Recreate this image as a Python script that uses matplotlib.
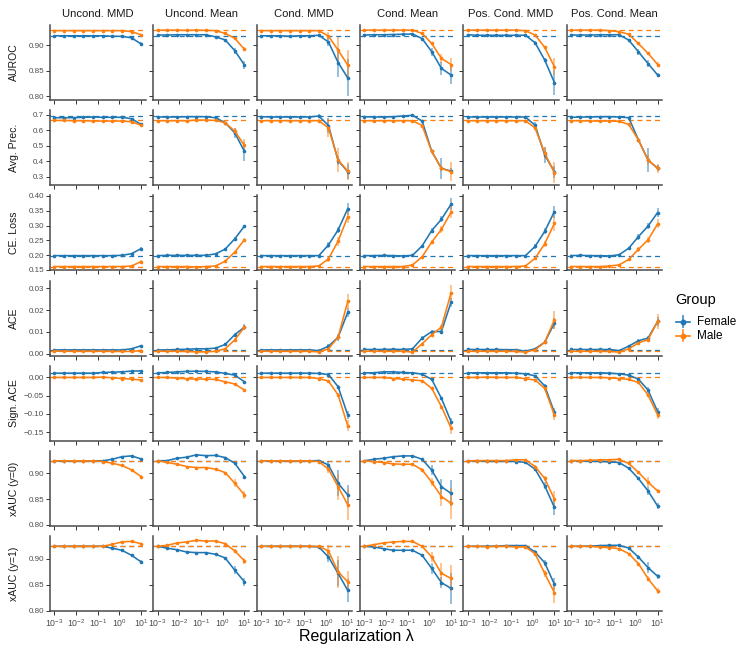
import matplotlib
matplotlib.use("Agg")
import matplotlib.pyplot as plt
from matplotlib.ticker import FixedLocator, FuncFormatter, NullLocator
from matplotlib.lines import Line2D

# ---------------- data ----------------
lambdas = [0.001, 0.00278, 0.00774, 0.0215, 0.0599, 0.167, 0.464, 1.29, 3.59, 10.0]
methods = ["Uncond. MMD", "Uncond. Mean", "Cond. MMD", "Cond. Mean", "Pos. Cond. MMD", "Pos. Cond. Mean"]
metrics = ["AUROC", "Avg. Prec.", "CE. Loss", "ACE", "Sign. ACE", "xAUC (y=0)", "xAUC (y=1)"]
groups = ["Female", "Male"]
colors = ["#1f77b4", "#ff7f0e"]

auroc_female = [
    [0.918, 0.918, 0.918, 0.918, 0.918, 0.918, 0.917, 0.917, 0.914, 0.902],
    [0.9195, 0.9195, 0.920, 0.920, 0.920, 0.920, 0.916, 0.910, 0.889, 0.861],
    [0.918, 0.918, 0.918, 0.917, 0.918, 0.918, 0.919, 0.906, 0.866, 0.836],
    [0.9195, 0.920, 0.920, 0.9205, 0.921, 0.9215, 0.9125, 0.887, 0.8545, 0.8416],
    [0.920, 0.919, 0.919, 0.919, 0.919, 0.919, 0.919, 0.9045, 0.871, 0.827],
    [0.9195, 0.9195, 0.9195, 0.920, 0.920, 0.920, 0.9097, 0.887, 0.864, 0.8416],
]
auroc_male = [
    [0.928, 0.928, 0.928, 0.928, 0.928, 0.928, 0.928, 0.928, 0.926, 0.920],
    [0.929, 0.929, 0.929, 0.9286, 0.929, 0.9286, 0.928, 0.9227, 0.913, 0.8916],
    [0.928, 0.928, 0.928, 0.928, 0.928, 0.928, 0.928, 0.9175, 0.890, 0.861],
    [0.929, 0.929, 0.929, 0.929, 0.929, 0.929, 0.9227, 0.903, 0.874, 0.862],
    [0.929, 0.929, 0.929, 0.929, 0.929, 0.929, 0.928, 0.9195, 0.8955, 0.858],
    [0.929, 0.929, 0.929, 0.929, 0.928, 0.926, 0.921, 0.903, 0.884, 0.862],
]
avgprec_female = [
    [0.6825, 0.6825, 0.6825, 0.685, 0.687, 0.685, 0.685, 0.685, 0.676, 0.639],
    [0.687, 0.687, 0.687, 0.689, 0.689, 0.689, 0.6825, 0.650, 0.584, 0.464],
    [0.689, 0.687, 0.687, 0.687, 0.687, 0.687, 0.6935, 0.632, 0.405, 0.333],
    [0.689, 0.687, 0.687, 0.689, 0.6935, 0.698, 0.661, 0.464, 0.355, 0.337],
    [0.687, 0.687, 0.687, 0.687, 0.687, 0.687, 0.687, 0.634, 0.442, 0.333],
    [0.685, 0.687, 0.687, 0.689, 0.689, 0.687, 0.6825, 0.540, 0.409, 0.355],
]
avgprec_male = [
    [0.665, 0.665, 0.663, 0.663, 0.661, 0.661, 0.661, 0.661, 0.656, 0.634],
    [0.663, 0.663, 0.663, 0.663, 0.667, 0.667, 0.665, 0.650, 0.595, 0.503],
    [0.663, 0.663, 0.663, 0.663, 0.663, 0.663, 0.663, 0.617, 0.409, 0.337],
    [0.663, 0.663, 0.663, 0.663, 0.663, 0.663, 0.632, 0.464, 0.355, 0.333],
    [0.663, 0.663, 0.663, 0.663, 0.663, 0.663, 0.663, 0.617, 0.453, 0.328],
    [0.663, 0.663, 0.661, 0.661, 0.661, 0.659, 0.639, 0.540, 0.409, 0.355],
]
ce_female = [
    [0.198, 0.198, 0.198, 0.198, 0.198, 0.198, 0.198, 0.199, 0.2045, 0.222],
    [0.198, 0.199, 0.199, 0.199, 0.199, 0.199, 0.204, 0.220, 0.255, 0.298],
    [0.198, 0.198, 0.198, 0.198, 0.198, 0.198, 0.198, 0.234, 0.285, 0.357],
    [0.198, 0.198, 0.199, 0.198, 0.197, 0.199, 0.231, 0.283, 0.321, 0.372],
    [0.198, 0.198, 0.198, 0.198, 0.198, 0.198, 0.198, 0.229, 0.280, 0.347],
    [0.198, 0.199, 0.198, 0.198, 0.197, 0.201, 0.223, 0.262, 0.298, 0.344],
]
ce_male = [
    [0.161, 0.161, 0.161, 0.161, 0.161, 0.161, 0.161, 0.161, 0.163, 0.178],
    [0.161, 0.161, 0.161, 0.161, 0.160, 0.161, 0.163, 0.179, 0.210, 0.2515],
    [0.161, 0.161, 0.161, 0.161, 0.161, 0.161, 0.163, 0.187, 0.247, 0.330],
    [0.161, 0.161, 0.161, 0.161, 0.161, 0.1665, 0.194, 0.244, 0.287, 0.345],
    [0.161, 0.161, 0.161, 0.161, 0.161, 0.161, 0.163, 0.1887, 0.238, 0.307],
    [0.161, 0.161, 0.161, 0.161, 0.163, 0.1665, 0.185, 0.219, 0.2515, 0.3055],
]
ace_female = [
    [0.0018, 0.0018, 0.0018, 0.0018, 0.0018, 0.0018, 0.0018, 0.0018, 0.0023, 0.0037],
    [0.0018, 0.0018, 0.0020, 0.0021, 0.0023, 0.0023, 0.0026, 0.0043, 0.0088, 0.0122],
    [0.0018, 0.0018, 0.0018, 0.0018, 0.0018, 0.0018, 0.0015, 0.0035, 0.0076, 0.0190],
    [0.0020, 0.0020, 0.0020, 0.0021, 0.0020, 0.0023, 0.0072, 0.0102, 0.0102, 0.0236],
    [0.0020, 0.0020, 0.0020, 0.0020, 0.0019, 0.0019, 0.0012, 0.0023, 0.0053, 0.0140],
    [0.0020, 0.0020, 0.0020, 0.0020, 0.0020, 0.0015, 0.0035, 0.0060, 0.0072, 0.0148],
]
ace_male = [
    [0.0012, 0.0012, 0.0012, 0.0012, 0.0012, 0.0012, 0.0011, 0.0011, 0.0011, 0.0015],
    [0.0012, 0.0012, 0.0012, 0.0011, 0.0009, 0.0009, 0.0012, 0.0023, 0.0064, 0.0122],
    [0.0012, 0.0012, 0.0012, 0.0012, 0.0012, 0.0012, 0.0009, 0.0023, 0.0076, 0.0240],
    [0.0012, 0.0012, 0.0012, 0.0012, 0.0012, 0.0008, 0.0046, 0.0088, 0.0122, 0.0279],
    [0.0012, 0.0012, 0.0012, 0.0012, 0.0012, 0.0011, 0.0008, 0.0018, 0.0053, 0.0155],
    [0.0012, 0.0012, 0.0012, 0.0012, 0.0011, 0.0008, 0.0023, 0.0050, 0.0065, 0.0149],
]
sace_female = [
    [0.0118, 0.0118, 0.0118, 0.0118, 0.0118, 0.0136, 0.0145, 0.0155, 0.0173, 0.0180],
    [0.0127, 0.0136, 0.0155, 0.0164, 0.0173, 0.0164, 0.0155, 0.0110, 0.0064, -0.0120],
    [0.0118, 0.0118, 0.0118, 0.0118, 0.0118, 0.0118, 0.0110, 0.0080, -0.0255, -0.1030],
    [0.0127, 0.0127, 0.0155, 0.0155, 0.0136, 0.0127, 0.0090, -0.0055, -0.0573, -0.1210],
    [0.0127, 0.0127, 0.0127, 0.0127, 0.0127, 0.0118, 0.0100, 0.0045, -0.0230, -0.0960],
    [0.0127, 0.0127, 0.0127, 0.0127, 0.0118, 0.0100, 0.0064, -0.0045, -0.0345, -0.0940],
]
sace_male = [
    [0.0, 0.0, 0.0, 0.0, 0.0, 0.001, -0.001, -0.003, -0.0045, -0.007],
    [0.0, 0.0, -0.002, -0.0036, -0.0045, -0.0045, -0.0055, -0.012, -0.018, -0.0345],
    [0.0, 0.0, 0.0, 0.0, 0.0, 0.0, -0.003, -0.010, -0.048, -0.133],
    [0.0, 0.0, 0.0, -0.003, -0.0045, -0.007, -0.009, -0.030, -0.080, -0.139],
    [0.0, 0.0, 0.001, 0.0, 0.0, 0.0, -0.0036, -0.007, -0.030, -0.103],
    [0.0, 0.0, 0.0, 0.0, -0.001, -0.003, -0.0055, -0.0136, -0.048, -0.103],
]
xauc0_female = [
    [0.924, 0.923, 0.924, 0.924, 0.924, 0.924, 0.927, 0.932, 0.9335, 0.9277],
    [0.924, 0.9245, 0.929, 0.931, 0.9355, 0.934, 0.9345, 0.9303, 0.9194, 0.8935],
    [0.924, 0.924, 0.924, 0.924, 0.924, 0.924, 0.9245, 0.916, 0.8806, 0.858],
    [0.924, 0.927, 0.929, 0.932, 0.9335, 0.9335, 0.927, 0.906, 0.874, 0.861],
    [0.924, 0.924, 0.923, 0.923, 0.923, 0.9226, 0.921, 0.908, 0.876, 0.834],
    [0.924, 0.924, 0.923, 0.923, 0.922, 0.9207, 0.9097, 0.890, 0.866, 0.8365],
]
xauc0_male = [
    [0.924, 0.924, 0.924, 0.924, 0.924, 0.9226, 0.9194, 0.915, 0.9065, 0.8935],
    [0.924, 0.921, 0.9174, 0.913, 0.911, 0.911, 0.908, 0.9013, 0.8806, 0.858],
    [0.924, 0.924, 0.924, 0.924, 0.924, 0.924, 0.9226, 0.908, 0.874, 0.839],
    [0.924, 0.9226, 0.9207, 0.918, 0.9174, 0.9174, 0.9065, 0.8826, 0.855, 0.842],
    [0.924, 0.9245, 0.9245, 0.9245, 0.9245, 0.926, 0.926, 0.913, 0.890, 0.850],
    [0.9245, 0.9245, 0.925, 0.926, 0.926, 0.927, 0.919, 0.902, 0.8826, 0.8658],
]
xauc1_female = [
    [0.9236, 0.9236, 0.9236, 0.9236, 0.9236, 0.9236, 0.920, 0.916, 0.9064, 0.8936],
    [0.9236, 0.920, 0.917, 0.9127, 0.9115, 0.9115, 0.9083, 0.9013, 0.8777, 0.8554],
    [0.9236, 0.9236, 0.9236, 0.9236, 0.9236, 0.9236, 0.9223, 0.903, 0.8716, 0.839],
    [0.9236, 0.9223, 0.919, 0.916, 0.916, 0.916, 0.9064, 0.881, 0.854, 0.8427],
    [0.9236, 0.9236, 0.9236, 0.924, 0.925, 0.925, 0.925, 0.9127, 0.892, 0.8508],
    [0.9236, 0.9236, 0.924, 0.925, 0.9255, 0.9255, 0.9204, 0.903, 0.8828, 0.866],
]
xauc1_male = [
    [0.9236, 0.9236, 0.9236, 0.9236, 0.9236, 0.9236, 0.9274, 0.932, 0.933, 0.9287],
    [0.9236, 0.9255, 0.930, 0.932, 0.935, 0.9338, 0.9338, 0.9287, 0.9147, 0.8955],
    [0.9236, 0.9236, 0.9236, 0.9236, 0.9236, 0.9236, 0.9236, 0.9147, 0.8745, 0.8554],
    [0.9236, 0.9268, 0.930, 0.932, 0.933, 0.933, 0.9236, 0.903, 0.8716, 0.862],
    [0.9236, 0.9236, 0.9230, 0.9236, 0.9236, 0.9223, 0.9223, 0.9095, 0.8716, 0.8347],
    [0.9236, 0.9236, 0.9236, 0.9223, 0.921, 0.919, 0.9095, 0.8904, 0.8617, 0.838],
]

# baseline (unregularised) values per metric: (Female, Male)
baselines = [(0.9185, 0.9285), (0.693, 0.665), (0.197, 0.161), (0.0019, 0.0012),
             (0.0118, 0.0005), (0.9233, 0.9240), (0.9233, 0.9240)]

# error half-widths: small value for lambda < 0.4, explicit for the last four lambdas
err_small = [0.001, 0.004, 0.002, 0.0003, 0.0015, 0.001, 0.001]
err_female = [
    [[0.001, 0.001, 0.002, 0.003], [0.001, 0.002, 0.006, 0.007], [0.002, 0.008, 0.028, 0.036],
     [0.002, 0.008, 0.012, 0.018], [0.001, 0.004, 0.004, 0.025], [0.002, 0.006, 0.006, 0.003]],
    [[0.004, 0.004, 0.006, 0.008], [0.005, 0.006, 0.03, 0.06], [0.01, 0.05, 0.03, 0.05],
     [0.006, 0.01, 0.07, 0.02], [0.004, 0.02, 0.05, 0.04], [0.004, 0.01, 0.08, 0.02]],
    [[0.002, 0.002, 0.003, 0.004], [0.002, 0.004, 0.006, 0.005], [0.003, 0.01, 0.01, 0.02],
     [0.003, 0.01, 0.01, 0.02], [0.002, 0.01, 0.01, 0.02], [0.004, 0.01, 0.01, 0.015]],
    [[0.0003, 0.0003, 0.0004, 0.0005], [0.0004, 0.0005, 0.0008, 0.0015], [0.0005, 0.001, 0.0015, 0.002],
     [0.0008, 0.0008, 0.001, 0.002], [0.0004, 0.0005, 0.001, 0.0025], [0.0005, 0.0008, 0.0008, 0.002]],
    [[0.002, 0.002, 0.002, 0.002], [0.002, 0.002, 0.003, 0.003], [0.002, 0.003, 0.006, 0.01],
     [0.002, 0.003, 0.004, 0.01], [0.002, 0.003, 0.006, 0.012], [0.002, 0.003, 0.008, 0.01]],
    [[0.001, 0.001, 0.002, 0.002], [0.001, 0.002, 0.003, 0.004], [0.002, 0.008, 0.025, 0.02],
     [0.002, 0.01, 0.015, 0.025], [0.001, 0.003, 0.007, 0.015], [0.002, 0.003, 0.008, 0.006]],
    [[0.001, 0.001, 0.002, 0.003], [0.002, 0.002, 0.008, 0.008], [0.003, 0.01, 0.025, 0.022],
     [0.003, 0.01, 0.01, 0.03], [0.001, 0.003, 0.006, 0.012], [0.002, 0.003, 0.01, 0.005]],
]
err_male = [
    [[0.001, 0.001, 0.001, 0.002], [0.001, 0.002, 0.003, 0.004], [0.002, 0.008, 0.026, 0.03],
     [0.002, 0.003, 0.008, 0.012], [0.001, 0.002, 0.003, 0.016], [0.002, 0.002, 0.003, 0.005]],
    [[0.004, 0.004, 0.004, 0.006], [0.005, 0.005, 0.02, 0.04], [0.01, 0.06, 0.08, 0.06],
     [0.004, 0.01, 0.02, 0.06], [0.004, 0.01, 0.04, 0.07], [0.004, 0.01, 0.03, 0.03]],
    [[0.002, 0.002, 0.002, 0.004], [0.002, 0.003, 0.005, 0.005], [0.003, 0.01, 0.015, 0.02],
     [0.002, 0.008, 0.012, 0.02], [0.002, 0.006, 0.01, 0.025], [0.004, 0.008, 0.01, 0.015]],
    [[0.0003, 0.0003, 0.0003, 0.0004], [0.0003, 0.0004, 0.0008, 0.0012], [0.0005, 0.001, 0.001, 0.0035],
     [0.0005, 0.0008, 0.001, 0.0035], [0.0004, 0.0005, 0.001, 0.004], [0.0005, 0.0008, 0.001, 0.0035]],
    [[0.002, 0.002, 0.002, 0.002], [0.002, 0.002, 0.002, 0.003], [0.002, 0.003, 0.006, 0.015],
     [0.002, 0.003, 0.004, 0.015], [0.002, 0.003, 0.006, 0.015], [0.002, 0.003, 0.006, 0.012]],
    [[0.001, 0.001, 0.002, 0.003], [0.002, 0.002, 0.008, 0.007], [0.003, 0.008, 0.025, 0.03],
     [0.003, 0.008, 0.018, 0.03], [0.001, 0.003, 0.005, 0.015], [0.002, 0.003, 0.01, 0.004]],
    [[0.001, 0.001, 0.002, 0.002], [0.001, 0.002, 0.003, 0.005], [0.003, 0.012, 0.03, 0.02],
     [0.003, 0.01, 0.02, 0.025], [0.001, 0.003, 0.006, 0.02], [0.002, 0.003, 0.005, 0.006]],
]

female_rows = [auroc_female, avgprec_female, ce_female, ace_female, sace_female, xauc0_female, xauc1_female]
male_rows = [auroc_male, avgprec_male, ce_male, ace_male, sace_male, xauc0_male, xauc1_male]

ylims = [(0.793, 0.939), (0.246, 0.731), (0.148, 0.402), (-0.0008, 0.0335),
         (-0.174, 0.032), (0.798, 0.943), (0.799, 0.943)]
yticks = [[0.80, 0.85, 0.90], [0.3, 0.4, 0.5, 0.6, 0.7], [0.15, 0.20, 0.25, 0.30, 0.35, 0.40],
          [0.00, 0.01, 0.02, 0.03], [-0.15, -0.10, -0.05, 0.00], [0.80, 0.85, 0.90], [0.80, 0.85, 0.90]]
ytick_fmt = ["%.2f", "%.1f", "%.2f", "%.2f", "%.2f", "%.2f", "%.2f"]
xticks = [1e-3, 1e-2, 1e-1, 1e0, 1e1]
xtick_labels = [r"$10^{-3}$", r"$10^{-2}$", r"$10^{-1}$", r"$10^{0}$", r"$10^{1}$"]

# ---------------- style ----------------
plt.rcParams["font.family"] = ["Liberation Sans", "DejaVu Sans"]
plt.rcParams["mathtext.fontset"] = "custom"
plt.rcParams["mathtext.rm"] = "Liberation Sans"
plt.rcParams["mathtext.it"] = "Liberation Sans:italic"
plt.rcParams["mathtext.bf"] = "Liberation Sans:bold"
plt.rcParams["mathtext.default"] = "regular"

W, H = 747, 654
fig = plt.figure(figsize=(W / 100, H / 100), dpi=100)

left0, pw, dx = 50.0, 95.5, 103.3
top0, ph, dy = 25.0, 75.0, 85.2
axis_col = "#4a4a4a"
text_col = "#4d4d4d"


def make_fmt(fmt):
    return FuncFormatter(lambda v, p: (fmt % v).replace("-", "\u2212"))


for r in range(len(metrics)):
    for c in range(len(methods)):
        ax = fig.add_axes([(left0 + c * dx) / W, 1 - (top0 + r * dy + ph) / H, pw / W, ph / H])
        ax.set_xscale("log")
        ax.set_xlim(10 ** -3.2, 10 ** 1.2)
        ax.set_ylim(*ylims[r])
        for s in ("top", "right"):
            ax.spines[s].set_visible(False)
        for s in ("left", "bottom"):
            ax.spines[s].set_color(axis_col)
            ax.spines[s].set_linewidth(1.1)
        ax.xaxis.set_major_locator(FixedLocator(xticks))
        ax.xaxis.set_minor_locator(NullLocator())
        ax.yaxis.set_major_locator(FixedLocator(yticks[r]))
        ax.yaxis.set_major_formatter(make_fmt(ytick_fmt[r]))
        ax.tick_params(axis="both", which="major", length=2.8, width=0.7, color="#333333",
                       labelsize=5.8, labelcolor=text_col, pad=1.5)
        if r == len(metrics) - 1:
            ax.set_xticklabels(xtick_labels, fontsize=6.3)
        else:
            ax.set_xticklabels([])
        if c != 0:
            ax.set_yticklabels([])

        rows = [female_rows[r][c], male_rows[r][c]]
        errs = [err_female[r][c], err_male[r][c]]
        for g in range(2):
            ax.axhline(baselines[r][g], color=colors[g], lw=0.9, dashes=(4, 3), zorder=1)
        for g in range(2):
            vals = rows[g]
            e = [err_small[r]] * (len(lambdas) - 4) + errs[g]
            lo = [v - ee for v, ee in zip(vals, e)]
            hi = [v + ee for v, ee in zip(vals, e)]
            ax.vlines(lambdas, lo, hi, color=colors[g], alpha=0.55, lw=1.2, zorder=2)
            ax.plot(lambdas, vals, color=colors[g], lw=1.15, marker="o", ms=1.6, zorder=3)

# column strip titles
for c, m in enumerate(methods):
    fig.text((left0 + c * dx + pw / 2) / W, 1 - 14 / H, m, ha="center", va="center",
             fontsize=8.1, color="#1a1a1a")
# row strip labels
for r, m in enumerate(metrics):
    fig.text(14.3 / W, 1 - (top0 + r * dy + ph / 2) / H, m, ha="center", va="center",
             rotation=90, fontsize=7.6, color="#1a1a1a")

# x-axis title
fig.text((left0 + 5 * dx + pw + left0) / 2 / W, 1 - 636 / H, "Regularization \u03bb",
         ha="center", va="center", fontsize=11.5, color="#000000")

# legend
fig.text(675 / W, 1 - 300 / H, "Group", ha="left", va="center", fontsize=10.5)
for g, name in enumerate(groups):
    yc = 1 - (321.7 + g * 14.0) / H
    fig.add_artist(Line2D([676 / W, 690 / W], [yc, yc], color=colors[g], lw=1.2,
                          transform=fig.transFigure))
    fig.add_artist(Line2D([683 / W, 683 / W], [yc - 5.5 / H, yc + 5.5 / H], color=colors[g],
                          lw=1.3, alpha=0.8, transform=fig.transFigure))
    fig.add_artist(Line2D([683 / W], [yc], color=colors[g], marker="o", ms=3.2, lw=0,
                          transform=fig.transFigure))
    fig.text(697 / W, yc, name, ha="left", va="center", fontsize=8.5)

fig.savefig("out.png", dpi=100)
